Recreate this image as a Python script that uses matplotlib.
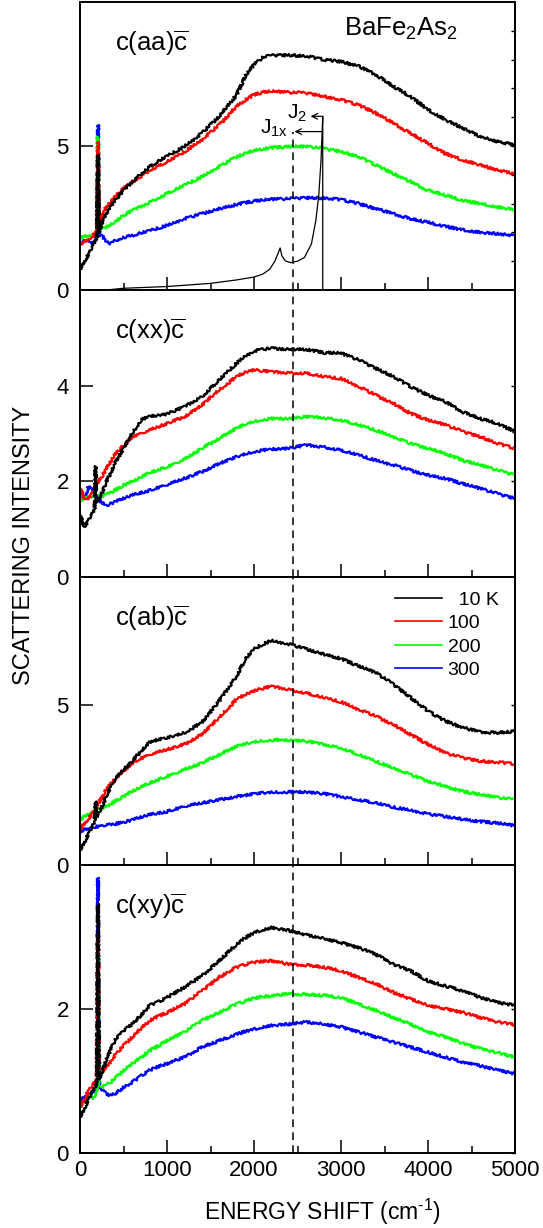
import matplotlib.pyplot as plt
from matplotlib.lines import Line2D
from matplotlib.ticker import MultipleLocator

plt.rcParams['font.family'] = ['Liberation Sans', 'DejaVu Sans']
plt.rcParams['mathtext.fontset'] = 'custom'
plt.rcParams['mathtext.rm'] = 'Liberation Sans'
plt.rcParams['mathtext.it'] = 'Liberation Sans:italic'
plt.rcParams['mathtext.default'] = 'regular'

temps = ['  10 K', '100', '200', '300']
colors = ['#000000', '#ff0000', '#00ff00', '#0000ff']

# energy grids (cm-1), phonon spike near 207 (aa, xy) or 180 (xx, ab)
x_s1 = [0, 50, 100, 150, 195, 207, 219, 250, 300, 350, 400, 500, 600, 700, 800, 900, 1000,
        1200, 1400, 1600, 1800, 1900, 2000, 2100, 2200, 2400, 2600, 2800, 3000, 3200, 3400,
        3600, 3800, 4000, 4200, 4400, 4600, 4800, 5000]
x_s2 = [0, 50, 100, 150, 168, 180, 192, 250, 300, 350, 400, 500, 600, 700, 800, 900, 1000,
        1200, 1400, 1600, 1800, 1900, 2000, 2100, 2200, 2400, 2600, 2800, 3000, 3200, 3400,
        3600, 3800, 4000, 4200, 4400, 4600, 4800, 5000]

# c(aa)c
aa_10 = [0.72, 1.0, 1.25, 1.55, 1.85, 4.69, 2.0, 2.3, 2.65, 2.9, 3.1, 3.46, 3.75, 4.04, 4.28, 4.47, 4.65,
         4.98, 5.44, 6.03, 6.78, 7.42, 7.83, 8.07, 8.15, 8.15, 8.12, 8.0, 7.93, 7.77, 7.48,
         7.07, 6.72, 6.26, 5.91, 5.62, 5.33, 5.15, 5.03]
aa_100 = [1.6, 1.68, 1.77, 1.9, 2.05, 5.15, 2.2, 2.55, 2.88, 3.05, 3.23, 3.52, 3.75, 3.95, 4.16, 4.3, 4.45,
          4.8, 5.21, 5.73, 6.38, 6.6, 6.78, 6.87, 6.9, 6.86, 6.84, 6.72, 6.6, 6.43, 6.14,
          5.79, 5.44, 5.09, 4.74, 4.51, 4.34, 4.16, 4.04]
aa_200 = [1.83, 1.85, 1.89, 1.95, 2.0, 5.33, 2.1, 2.14, 2.18, 2.27, 2.35, 2.59, 2.76, 2.9, 3.05, 3.2, 3.35,
          3.64, 3.93, 4.28, 4.63, 4.75, 4.84, 4.9, 4.94, 4.98, 4.98, 4.92, 4.8, 4.63, 4.34,
          4.04, 3.75, 3.46, 3.29, 3.11, 3.0, 2.88, 2.79]
aa_300 = [1.6, 1.7, 1.74, 1.62, 1.8, 5.73, 1.9, 1.89, 1.71, 1.62, 1.71, 1.83, 1.89, 1.98, 2.06, 2.15, 2.24,
          2.47, 2.65, 2.82, 2.97, 3.03, 3.09, 3.12, 3.15, 3.17, 3.2, 3.19, 3.14, 3.0, 2.82,
          2.65, 2.47, 2.35, 2.21, 2.09, 2.0, 1.95, 1.89]

# c(xx)c
xx_10 = [1.3, 1.05, 1.2, 1.35, 1.45, 2.32, 1.55, 1.75, 1.98, 2.17, 2.38, 2.68, 3.0, 3.28, 3.36, 3.38, 3.41,
         3.56, 3.77, 4.12, 4.47, 4.62, 4.72, 4.76, 4.78, 4.76, 4.76, 4.69, 4.68, 4.54, 4.36,
         4.19, 3.98, 3.8, 3.66, 3.45, 3.31, 3.21, 3.04]
xx_100 = [1.86, 1.65, 1.65, 1.78, 1.85, 2.0, 1.95, 2.1, 2.25, 2.4, 2.55, 2.75, 2.93, 3.0, 3.07, 3.14, 3.21,
          3.35, 3.59, 3.91, 4.19, 4.28, 4.33, 4.31, 4.29, 4.27, 4.26, 4.19, 4.15, 3.98, 3.8,
          3.63, 3.42, 3.28, 3.18, 3.04, 2.93, 2.79, 2.69]
xx_200 = [1.6, 1.65, 1.67, 1.7, 1.71, 1.75, 1.71, 1.68, 1.73, 1.77, 1.81, 1.92, 1.99, 2.08, 2.18, 2.24, 2.3,
          2.46, 2.69, 2.9, 3.11, 3.19, 3.25, 3.29, 3.31, 3.31, 3.35, 3.33, 3.28, 3.18, 3.07,
          2.93, 2.79, 2.69, 2.58, 2.44, 2.34, 2.23, 2.13]
xx_300 = [1.64, 1.65, 1.9, 1.8, 1.7, 1.68, 1.67, 1.55, 1.5, 1.53, 1.57, 1.64, 1.71, 1.76, 1.81, 1.87, 1.93,
          2.06, 2.2, 2.37, 2.51, 2.57, 2.62, 2.65, 2.67, 2.69, 2.76, 2.72, 2.65, 2.55, 2.44,
          2.34, 2.23, 2.13, 2.06, 1.95, 1.85, 1.74, 1.64]

# c(ab)c
ab_10 = [0.47, 0.72, 0.99, 1.25, 1.35, 1.99, 1.5, 1.8, 2.14, 2.42, 2.67, 2.98, 3.24, 3.56, 3.84, 3.92, 3.97,
         4.13, 4.45, 5.13, 5.91, 6.43, 6.75, 6.9, 7.01, 6.9, 6.75, 6.59, 6.45, 6.22, 6.01,
         5.65, 5.23, 4.81, 4.5, 4.29, 4.16, 4.13, 4.18]
ab_100 = [1.12, 1.3, 1.46, 1.65, 1.72, 1.9, 1.85, 2.1, 2.35, 2.52, 2.67, 2.93, 3.19, 3.33, 3.45, 3.53, 3.61,
          3.77, 4.08, 4.6, 5.18, 5.33, 5.44, 5.52, 5.58, 5.49, 5.37, 5.23, 5.1, 4.86, 4.65,
          4.39, 4.08, 3.77, 3.5, 3.35, 3.24, 3.21, 3.16]
ab_200 = [1.41, 1.52, 1.62, 1.68, 1.7, 1.73, 1.74, 1.77, 1.81, 1.9, 1.99, 2.14, 2.3, 2.43, 2.56, 2.67, 2.77,
          2.98, 3.19, 3.45, 3.71, 3.78, 3.84, 3.88, 3.9, 3.9, 3.87, 3.77, 3.66, 3.45, 3.24,
          3.03, 2.82, 2.62, 2.46, 2.3, 2.2, 2.11, 2.04]
ab_300 = [1.05, 1.1, 1.15, 1.18, 1.19, 1.2, 1.2, 1.22, 1.25, 1.27, 1.28, 1.34, 1.41, 1.49, 1.57, 1.62, 1.67,
          1.83, 1.94, 2.04, 2.14, 2.18, 2.22, 2.25, 2.27, 2.28, 2.28, 2.23, 2.14, 2.04, 1.94,
          1.81, 1.71, 1.59, 1.52, 1.43, 1.36, 1.31, 1.23]

# c(xy)c
xy_10 = [0.5, 0.62, 0.75, 0.87, 0.97, 3.46, 1.02, 1.12, 1.28, 1.43, 1.56, 1.7, 1.79, 1.91, 2.05, 2.1, 2.16,
         2.3, 2.46, 2.67, 2.9, 2.99, 3.06, 3.1, 3.13, 3.09, 3.03, 2.98, 2.92, 2.85, 2.76,
         2.62, 2.53, 2.39, 2.32, 2.25, 2.16, 2.09, 2.05]
xy_100 = [0.64, 0.75, 0.87, 0.95, 1.03, 3.0, 1.08, 1.12, 1.19, 1.27, 1.35, 1.49, 1.61, 1.73, 1.84, 1.9, 1.95,
          2.07, 2.25, 2.44, 2.58, 2.62, 2.65, 2.66, 2.67, 2.62, 2.61, 2.58, 2.53, 2.44, 2.35,
          2.23, 2.14, 2.05, 2.0, 1.95, 1.88, 1.82, 1.78]
xy_200 = [0.64, 0.72, 0.8, 0.75, 0.85, 3.0, 0.95, 0.91, 0.94, 0.98, 1.03, 1.15, 1.24, 1.33, 1.42, 1.49, 1.56,
          1.68, 1.84, 1.95, 2.07, 2.11, 2.15, 2.17, 2.18, 2.21, 2.2, 2.19, 2.16, 2.07, 1.98,
          1.88, 1.79, 1.68, 1.61, 1.52, 1.45, 1.39, 1.33]
xy_300 = [0.71, 0.78, 0.82, 0.85, 0.87, 3.82, 0.9, 0.89, 0.82, 0.8, 0.82, 0.91, 0.98, 1.07, 1.15, 1.2, 1.24,
          1.33, 1.47, 1.56, 1.65, 1.69, 1.72, 1.75, 1.77, 1.79, 1.82, 1.79, 1.75, 1.68, 1.61,
          1.54, 1.47, 1.4, 1.33, 1.26, 1.21, 1.15, 1.1]

# two-magnon calculation drawn in the top panel
x_theory = [300, 500, 1000, 1500, 1800, 2000, 2100, 2180, 2240, 2280, 2300, 2320, 2360, 2420, 2500,
            2580, 2660, 2710, 2745, 2770, 2785, 2790, 2790]
y_theory = [0, 0.06, 0.12, 0.23, 0.35, 0.45, 0.55, 0.72, 1.0, 1.3, 1.46, 1.19, 1.01, 0.95, 1.0,
            1.13, 1.6, 2.4, 3.3, 4.5, 5.6, 6.03, 0]
J2_pos, J1x_pos, J_top = 2650, 2465, 2790
J2_y, J1x_y = 6.03, 5.5
x_dash = 2450

panels = [
    (x_s1, [aa_10, aa_100, aa_200, aa_300], 'c(aa)$\\overline{c}$', 10, [0, 5], 1),
    (x_s2, [xx_10, xx_100, xx_200, xx_300], 'c(xx)$\\overline{c}$', 6, [0, 2, 4], None),
    (x_s2, [ab_10, ab_100, ab_200, ab_300], 'c(ab)$\\overline{c}$', 9, [0, 5], None),
    (x_s1, [xy_10, xy_100, xy_200, xy_300], 'c(xy)$\\overline{c}$', 4, [0, 2], None),
]

fig = plt.figure(figsize=(5.43, 12.28), dpi=100)
W, H = 543, 1228
left, right = 80, 515
edges = [2, 290, 577, 865, 1153]

axes = []
for i, (xs, ys, lab, ytop, yt, rminor) in enumerate(panels):
    ax = fig.add_axes([left / W, 1 - edges[i + 1] / H, (right - left) / W,
                       (edges[i + 1] - edges[i]) / H])
    axes.append(ax)
    for k in [3, 2, 1, 0]:
        ln, = ax.plot(xs, ys[k], color=colors[k], lw=1.6)
        ln.set_sketch_params(scale=1.3, length=1.2, randomness=3)
    ax.set_xlim(0, 5000)
    ax.set_ylim(0, ytop)
    ax.set_yticks(yt)
    ax.set_xticks(range(0, 5001, 1000))
    ax.xaxis.set_minor_locator(MultipleLocator(500))
    ax.tick_params(axis='both', which='major', direction='in', length=9.5, width=1.1,
                   labelsize=16, top=False, right=False)
    ax.tick_params(axis='y', pad=8)
    ax.tick_params(axis='x', pad=5)
    ax.tick_params(axis='x', which='minor', direction='in', length=5, width=1.1, top=False)
    for sp in ax.spines.values():
        sp.set_linewidth(1.4)
    sec = ax.secondary_yaxis('right')
    if rminor:
        sec.set_yticks(list(range(1, ytop)))
    else:
        sec.set_yticks(yt)
    sec.tick_params(direction='in', length=3, width=1.0, labelright=False)
    sec.spines['right'].set_linewidth(1.4)
    if i < 3:
        ax.tick_params(axis='x', labelbottom=False)
    ax.text(0.081, 0.831, lab, transform=ax.transAxes, fontsize=18.5, ha='left', va='baseline')
    if i == 0:
        ax.plot([x_dash, x_dash], [0, J1x_y], color='black', lw=1.1, ls=(0, (5, 3.5)))
    else:
        ax.axvline(x_dash, color='black', lw=1.1, ls=(0, (5, 3.5)))

ax1 = axes[0]
ax1.plot(x_theory, y_theory, color='black', lw=0.9)
ax1.annotate('', xy=(J2_pos, J2_y), xytext=(J_top, J2_y),
             arrowprops=dict(arrowstyle='->', lw=0.9, color='black', shrinkA=0, shrinkB=0))
ax1.annotate('', xy=(J1x_pos, J1x_y), xytext=(J_top, J1x_y),
             arrowprops=dict(arrowstyle='->', lw=0.9, color='black', shrinkA=0, shrinkB=0))
ax1.text(2380, 6.15, 'J$_2$', fontsize=15, ha='left', va='center')
ax1.text(2070, 5.63, 'J$_{1x}$', fontsize=15, ha='left', va='center')
ax1.text(0.608, 0.882, 'BaFe$_2$As$_2$', transform=ax1.transAxes, fontsize=18.5,
         ha='left', va='baseline')

handles = [Line2D([], [], color=c, lw=1.2) for c in colors]
axes[2].legend(handles, temps, loc='upper left', bbox_to_anchor=(0.724, 0.95),
               frameon=False, fontsize=14, handlelength=2.4, handletextpad=0.31,
               labelspacing=0.29, borderpad=0, borderaxespad=0)

fig.text(24 / W, 1 - 545 / H, 'SCATTERING INTENSITY', rotation=90, fontsize=17,
         ha='center', va='center')
fig.text(322 / W, 1 - 1220 / H, 'ENERGY SHIFT (cm$^{\\text{-}1}$)', fontsize=16.5,
         ha='center', va='baseline')

fig.savefig('out.png', dpi=100)
